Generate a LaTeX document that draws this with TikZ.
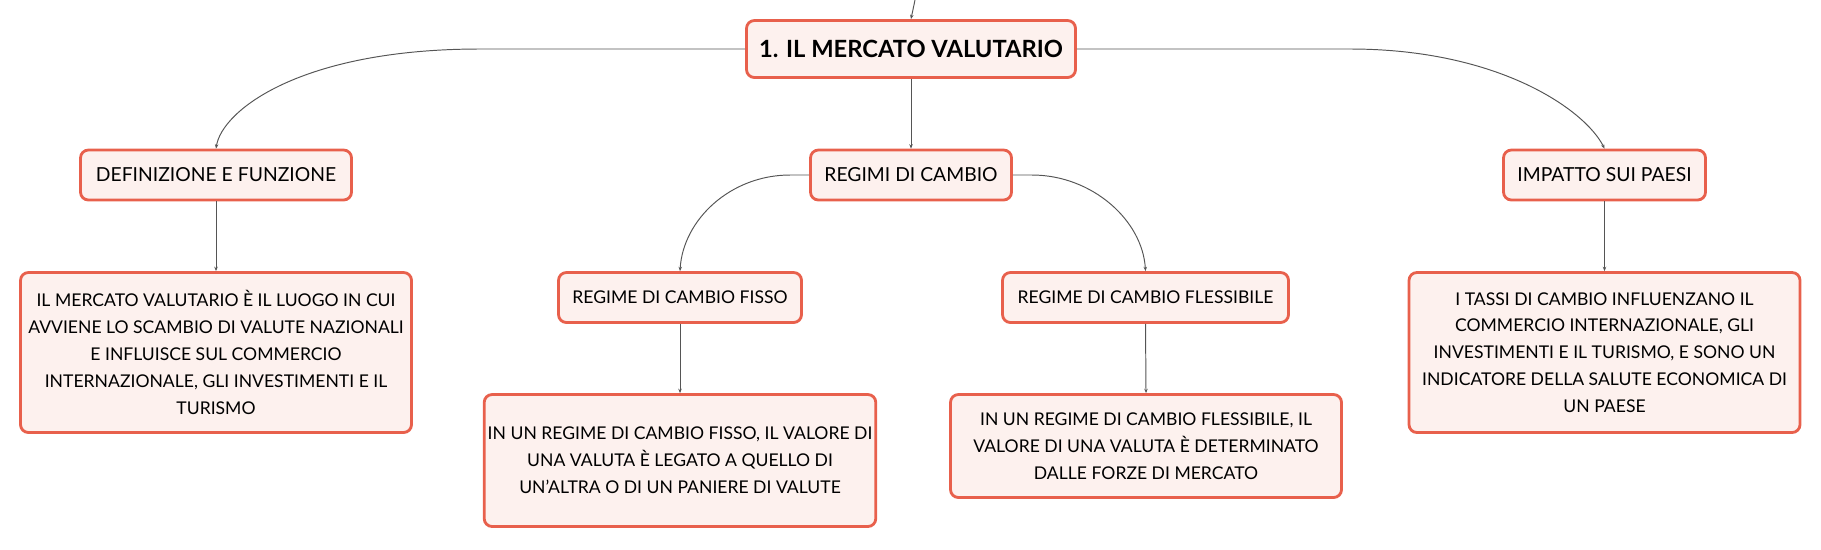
\documentclass[tikz,border=0pt]{standalone}
\usepackage{fontspec}
\setmainfont{Lato}
\usetikzlibrary{arrows.meta}
\definecolor{boxline}{HTML}{E8604C}
\definecolor{boxfill}{HTML}{FDF1EE}
\definecolor{linkgray}{HTML}{555555}
\tikzset{
	box/.style={draw=boxline, fill=boxfill, line width=1.6pt, rounded corners=4.5pt, align=center, inner sep=2pt},
	maintitle/.style={box, minimum width=329*0.02cm, minimum height=57*0.02cm, font=\bfseries\fontsize{13.5}{16}\selectfont},
	title/.style={box, minimum height=50*0.02cm, font=\fontsize{11}{14}\selectfont},
	subtitle/.style={title, font=\fontsize{10}{13}\selectfont},
	textbox/.style={box, minimum width=391*0.02cm, font=\fontsize{10}{15.3}\selectfont},
	link/.style={linkgray, line width=0.55pt, -{Stealth[length=2.5pt,width=2pt]}}
}
\begin{document}
\begin{tikzpicture}[x=0.02cm, y=-0.02cm]
	\useasboundingbox (0,0) rectangle (1821,549);
	\node[maintitle] (main) at (911,49) {1. IL MERCATO VALUTARIO};
	\node[title, minimum width=271*0.02cm] (def) at (216,175) {DEFINIZIONE E FUNZIONE};
	\node[title, minimum width=201*0.02cm] (reg) at (911,175) {REGIMI DI CAMBIO};
	\node[title, minimum width=202*0.02cm] (imp) at (1604.5,175) {IMPATTO SUI PAESI};
	\node[subtitle, minimum width=243*0.02cm] (fisso) at (680,297.5) {REGIME DI CAMBIO FISSO};
	\node[subtitle, minimum width=286*0.02cm] (fless) at (1145.5,297.5) {REGIME DI CAMBIO FLESSIBILE};
	\node[textbox, minimum height=160*0.02cm] (deftxt) at (216,352.5) {IL MERCATO VALUTARIO È IL LUOGO IN CUI\\AVVIENE LO SCAMBIO DI VALUTE NAZIONALI\\E INFLUISCE SUL COMMERCIO\\INTERNAZIONALE, GLI INVESTIMENTI E IL\\TURISMO};
	\node[textbox, minimum height=132*0.02cm] (fissotxt) at (680,460.5) {IN UN REGIME DI CAMBIO FISSO, IL VALORE DI\\UNA VALUTA È LEGATO A QUELLO DI\\UN'ALTRA O DI UN PANIERE DI VALUTE};
	\node[textbox, minimum height=103*0.02cm] (flesstxt) at (1146,446) {IN UN REGIME DI CAMBIO FLESSIBILE, IL\\VALORE DI UNA VALUTA È DETERMINATO\\DALLE FORZE DI MERCATO};
	\node[textbox, minimum height=160*0.02cm] (imptxt) at (1604.5,352.5) {I TASSI DI CAMBIO INFLUENZANO IL\\COMMERCIO INTERNAZIONALE, GLI\\INVESTIMENTI E IL TURISMO, E SONO UN\\INDICATORE DELLA SALUTE ECONOMICA DI\\UN PAESE};

	\coordinate (top) at (915,0);
	\draw[link] (top) .. controls (913,9) .. (main.north);
	\draw[link] (main.west) -- ++(-265,0) .. controls +(-180,0) and +(6,-38) .. (def.north);
	\draw[link] (main.east) -- ++(273,0) .. controls +(150,0) and +(-19,-38) .. (imp.north);
	\draw[link] (main.south) -- (reg.north);
	\draw[link] (reg.west) -- ++(-19,0) .. controls +(-60,0) and +(3,-51) .. (fisso.north);
	\draw[link] (reg.east) -- ++(19,0) .. controls +(60,0) and +(-3,-51) .. (fless.north);
	\draw[link] (def.south) -- (deftxt.north);
	\draw[link] (fisso.south) -- (fissotxt.north);
	\draw[link] (fless.south) -- (flesstxt.north);
	\draw[link] (imp.south) -- (imptxt.north);
\end{tikzpicture}
\end{document}
